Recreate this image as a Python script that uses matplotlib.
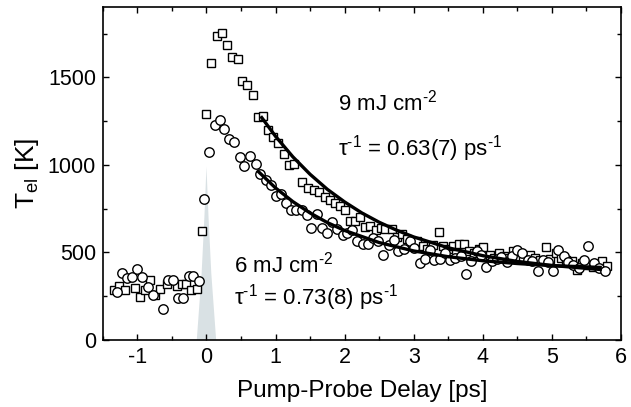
import numpy as np
import matplotlib
matplotlib.use('Agg')
import matplotlib.pyplot as plt
from matplotlib.ticker import MultipleLocator

plt.rcParams['font.family'] = ['Liberation Sans', 'DejaVu Sans']
plt.rcParams['mathtext.fontset'] = 'custom'
plt.rcParams['mathtext.rm'] = 'Liberation Sans'
plt.rcParams['mathtext.it'] = 'Liberation Sans'
plt.rcParams['axes.unicode_minus'] = False

## 9 mJ cm-2 (squares)
sq_x = [-1.34, -1.26, -1.18, -1.03, -0.96, -0.89, -0.82, -0.74, -0.67, -0.57, -0.43, -0.36, -0.29, -0.22, -0.14,
        -0.07, 0.0, 0.07, 0.15, 0.23, 0.30, 0.37, 0.45, 0.52, 0.59, 0.67, 0.75, 0.82, 0.89, 0.97, 1.04, 1.12,
        1.19, 1.27, 1.39, 1.47, 1.56, 1.63, 1.71, 1.79, 1.86, 1.93, 2.01, 2.08, 2.15, 2.22, 2.30, 2.37, 2.45,
        2.53, 2.59, 2.69, 2.76, 2.83, 2.90, 2.97, 3.05, 3.13, 3.20, 3.28, 3.36, 3.43, 3.50, 3.57, 3.66, 3.73,
        3.80, 3.87, 3.94, 4.01, 4.10, 4.17, 4.24, 4.31, 4.37, 4.44, 4.51, 4.58, 4.68, 4.75, 4.83, 4.91, 4.98,
        5.06, 5.13, 5.21, 5.29, 5.37, 5.44, 5.52, 5.59, 5.66, 5.72, 5.80]
sq_y = [286, 309, 282, 296, 244, 286, 343, 257, 290, 318, 309, 320, 320, 286, 290,
        620, 1289, 1583, 1739, 1754, 1687, 1617, 1607, 1478, 1457, 1401, 1276, 1281, 1197, 1159, 1125, 1064,
        1000, 1005, 902, 868, 854, 845, 816, 797, 782, 762, 744, 677, 677, 702, 645, 648, 625,
        639, 633, 633, 590, 604, 575, 555, 562, 534, 520, 540, 616, 534, 520, 539, 547, 547,
        510, 495, 520, 528, 486, 470, 496, 480, 470, 505, 460, 475, 486, 470, 455, 530, 460,
        496, 470, 455, 450, 400, 440, 430, 419, 430, 448, 420]

## 6 mJ cm-2 (circles)
ci_x = [-1.29, -1.23, -1.15, -1.08, -1.00, -0.94, -0.85, -0.78, -0.63, -0.56, -0.48, -0.41, -0.34, -0.26, -0.19,
        -0.11, -0.03, 0.04, 0.12, 0.19, 0.25, 0.33, 0.40, 0.48, 0.55, 0.63, 0.71, 0.78, 0.86, 0.94, 1.01, 1.08,
        1.15, 1.22, 1.30, 1.38, 1.45, 1.52, 1.60, 1.67, 1.74, 1.82, 1.89, 1.97, 2.04, 2.11, 2.18, 2.26, 2.34,
        2.41, 2.48, 2.56, 2.64, 2.72, 2.78, 2.86, 2.94, 3.01, 3.09, 3.16, 3.24, 3.30, 3.38, 3.45, 3.53, 3.60,
        3.68, 3.76, 3.83, 3.91, 3.98, 4.05, 4.13, 4.20, 4.27, 4.35, 4.43, 4.49, 4.57, 4.65, 4.72, 4.80, 4.87,
        4.94, 5.01, 5.09, 5.17, 5.24, 5.31, 5.39, 5.46, 5.53, 5.61, 5.69, 5.77]
ci_y = [276, 381, 351, 358, 404, 358, 301, 259, 175, 343, 343, 238, 238, 366, 366,
        339, 806, 1075, 1228, 1258, 1207, 1150, 1133, 1045, 995, 1049, 1003, 948, 911, 883, 820, 835,
        782, 740, 740, 740, 711, 639, 721, 639, 610, 673, 635, 597, 610, 625, 562, 547, 547,
        582, 566, 486, 543, 572, 505, 519, 566, 524, 439, 463, 515, 458, 462, 499, 454, 467,
        477, 378, 448, 505, 486, 419, 448, 462, 473, 442, 481, 511, 499, 458, 452, 395, 458,
        442, 395, 515, 477, 442, 429, 410, 458, 539, 439, 410, 391]

## fit curves
fit9_x = [0.8, 1.0, 1.25, 1.5, 1.75, 2.0, 2.25, 2.5, 2.75, 3.0, 3.5, 4.0, 4.5, 5.0, 5.7]
fit9_y = [1270, 1163, 1046, 946, 860, 788, 725, 672, 627, 588, 526, 481, 448, 425, 402]
fit6_x = [0.75, 1.0, 1.25, 1.5, 1.75, 2.0, 2.5, 3.0, 3.5, 4.0, 4.5, 5.0, 5.7]
fit6_y = [962, 868, 790, 725, 670, 625, 556, 508, 475, 452, 436, 424, 414]

## pump pulse (grey)
pulse_x = [-0.14, -0.07, -0.03, 0.0, 0.03, 0.07, 0.14]
pulse_y = [0, 380, 700, 990, 700, 380, 0]

fig = plt.figure(figsize=(6.31, 4.07), dpi=100)
ax = fig.add_axes([0.163, 0.165, 0.821, 0.817])

ax.fill(pulse_x, pulse_y, color='#d9e1e4', lw=0, zorder=1)
ax.plot(sq_x, sq_y, 's', ms=6.3, mfc='white', mec='black', mew=1.0, ls='none', zorder=2)
ax.plot(ci_x, ci_y, 'o', ms=6.8, mfc='white', mec='black', mew=1.0, ls='none', zorder=3)
ax.plot(fit9_x, fit9_y, '-', color='black', lw=2.4, zorder=4)
ax.plot(fit6_x, fit6_y, '-', color='black', lw=2.4, zorder=4)

fs = 16
ax.text(1.9, 1310, r'9 mJ cm$^{\text{-2}}$', fontsize=fs)
ax.text(1.9, 1052, r'τ$^{\text{-1}}$ = 0.63(7) ps$^{\text{-1}}$', fontsize=fs)
ax.text(0.4, 383, r'6 mJ cm$^{\text{-2}}$', fontsize=fs)
ax.text(0.4, 200, r'τ$^{\text{-1}}$ = 0.73(8) ps$^{\text{-1}}$', fontsize=fs)

ax.set_xlim(-1.5, 6.0)
ax.set_ylim(0, 1900)
ax.xaxis.set_major_locator(MultipleLocator(1))
ax.xaxis.set_minor_locator(MultipleLocator(0.5))
ax.yaxis.set_major_locator(MultipleLocator(500))
ax.yaxis.set_minor_locator(MultipleLocator(250))
ax.tick_params(which='both', direction='in', top=True, right=True, width=1.0, labelsize=15.5, pad=5)
ax.tick_params(which='major', length=4)
ax.tick_params(which='minor', length=3)
ax.set_xticks([-1, 0, 1, 2, 3, 4, 5, 6])
for s in ax.spines.values():
    s.set_linewidth(1.2)

ax.set_xlabel('Pump-Probe Delay [ps]', fontsize=17.5, labelpad=9)
ax.set_ylabel(r'T$_{\mathrm{el}}$ [K]', fontsize=19, labelpad=5)

fig.savefig('out.png', dpi=100)
